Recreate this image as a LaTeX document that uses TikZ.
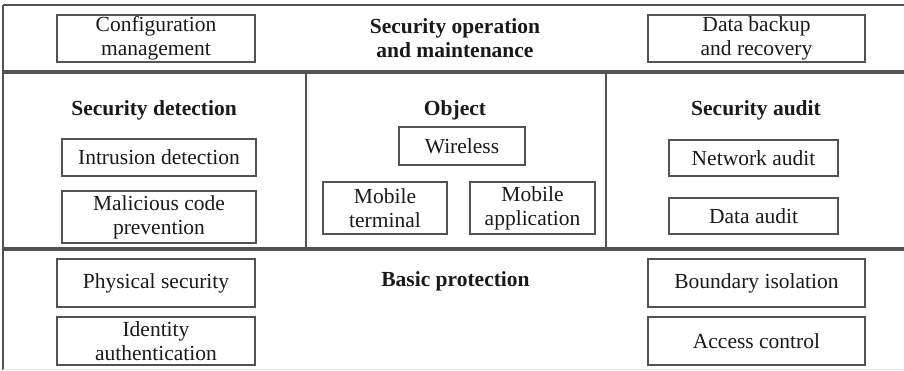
\documentclass[tikz,border=0pt]{standalone}
\usepackage{fontspec}
\setmainfont{Liberation Serif}
\begin{document}
\begin{tikzpicture}[x=1pt,y=-1pt,
  frame/.style={draw=black!68, line width=3.3pt},
  thinframe/.style={draw=black!68, line width=2.4pt},
  item/.style={draw=black!68, line width=2.9pt, align=center, inner sep=0pt,
    text=black!90, font=\fontsize{21.5}{24}\selectfont},
  head/.style={align=center, inner sep=0pt, text=black!90,
    font=\fontsize{21.5}{24}\selectfont\bfseries}]
\useasboundingbox (0,0) rectangle (904,370);
% frame lines
\draw[thinframe] (3,5) -- (904,5);
\draw[thinframe] (3,5) -- (3,370);
\draw[frame] (3,72) -- (904,72);
\draw[frame] (3,249) -- (904,249);
\draw[thinframe] (306,72) -- (306,249);
\draw[thinframe] (606,72) -- (606,249);
\draw[draw=black!10, line width=1pt] (3,369.5) -- (904,369.5);
% top section
\node[item, minimum width=198pt, minimum height=47pt] (conf) at (156,38.5) {Configuration\\management};
\node[head] (som) at (455,38) {Security operation\\and maintenance};
\node[item, minimum width=217pt, minimum height=47pt] (backup) at (756.5,38.5) {Data backup\\and recovery};
% security detection
\node[head] (sdet) at (154,110) {Security detection};
\node[item, minimum width=194pt, minimum height=37pt] (intr) at (159,157.5) {Intrusion detection};
\node[item, minimum width=194pt, minimum height=52pt] (mal) at (159,217) {Malicious code\\prevention};
% object
\node[head] (obj) at (455,110) {Object};
\node[item, minimum width=126pt, minimum height=38pt] (wl) at (462,146) {Wireless};
\node[item, minimum width=124pt, minimum height=52pt] (mterm) at (385,208) {Mobile\\terminal};
\node[item, minimum width=125pt, minimum height=52pt] (mapp) at (532.5,208) {Mobile\\application};
% security audit
\node[head] (saud) at (756,110) {Security audit};
\node[item, minimum width=169pt, minimum height=36pt] (naud) at (753.5,158) {Network audit};
\node[item, minimum width=169pt, minimum height=36pt] (daud) at (753.5,216) {Data audit};
% basic protection
\node[item, minimum width=198pt, minimum height=48pt] (phys) at (156,283) {Physical security};
\node[item, minimum width=198pt, minimum height=48pt] (ident) at (156,341) {Identity\\authentication};
\node[head] (basic) at (455.5,281) {Basic protection};
\node[item, minimum width=217pt, minimum height=48pt] (bound) at (756.5,283) {Boundary isolation};
\node[item, minimum width=217pt, minimum height=48pt] (acc) at (756.5,341) {Access control};
\end{tikzpicture}
\end{document}
